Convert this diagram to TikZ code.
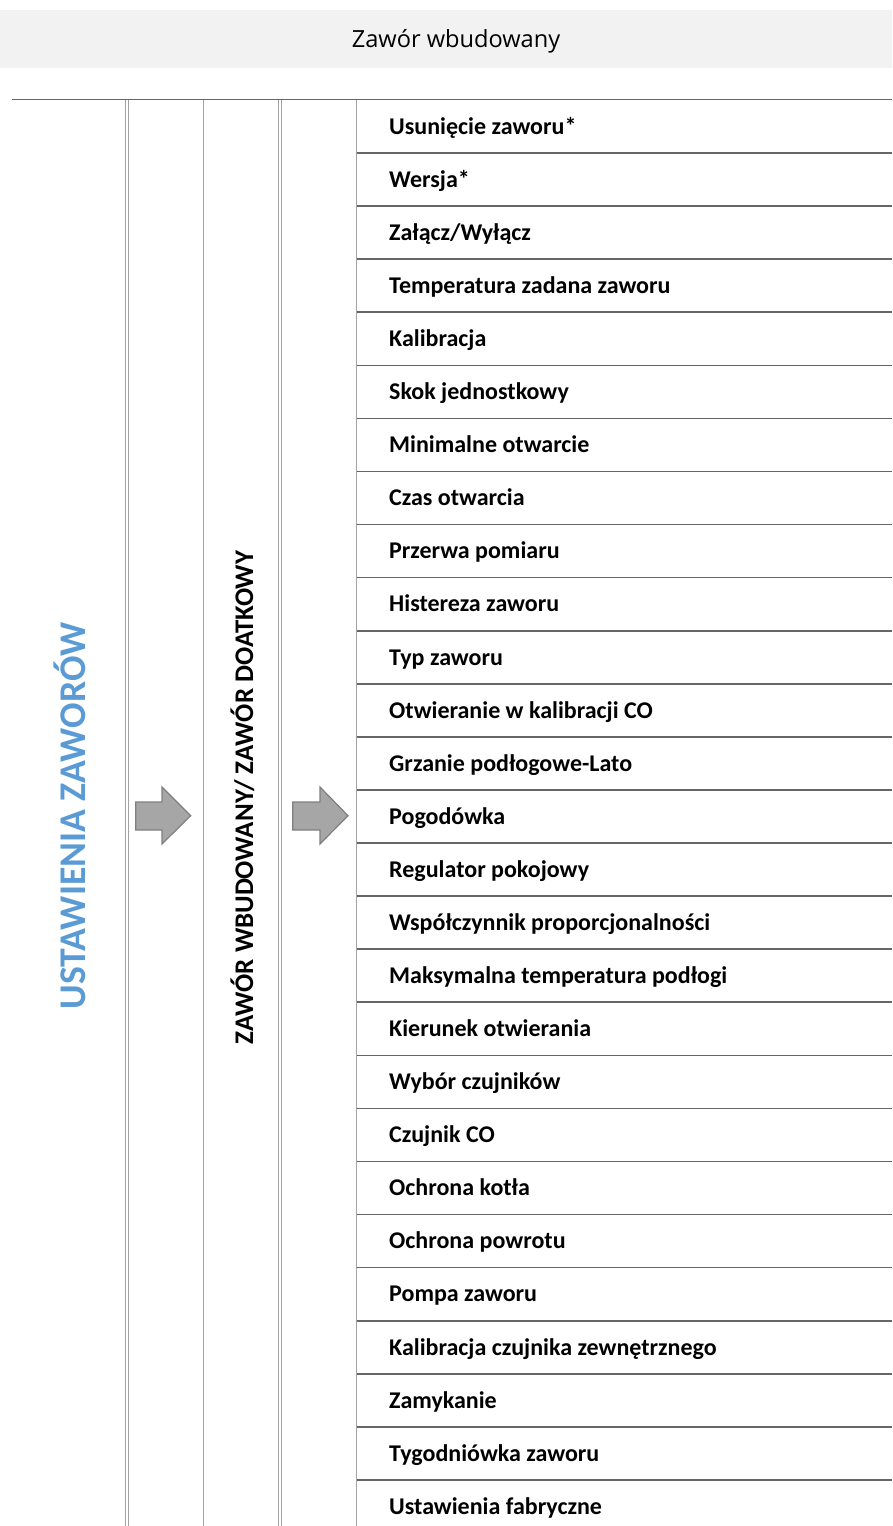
\documentclass[tikz,border=0pt]{standalone}
\usepackage{fontspec}
\setmainfont{Carlito}
\newfontfamily\hdfont{Open Sans}
\definecolor{hdbg}{HTML}{F2F2F2}
\definecolor{hlc}{HTML}{666666}
\definecolor{vlc}{HTML}{A3A3A3}
\definecolor{bluetxt}{HTML}{5B9BD5}
\definecolor{arrfill}{HTML}{A6A6A6}
\definecolor{arrdraw}{HTML}{7F7F7F}
\begin{document}
\begin{tikzpicture}[x=1pt,y=-1pt,
  hline/.style={draw=hlc, line width=1.6pt},
  vline/.style={draw=vlc, line width=1.2pt},
  rowtext/.style={anchor=base west, font=\bfseries\fontsize{24}{28}\selectfont, inner sep=0pt},
  vtext/.style={rotate=90, inner sep=0pt, font=\bfseries},
  blockarrow/.style={fill=arrfill, draw=arrdraw, line width=1.2pt, line join=miter}]
\useasboundingbox (0,0) rectangle (892,1526);
% header band
\fill[hdbg] (0,10) rectangle (892,68);
\node[font=\hdfont\fontsize{23.6}{28}\selectfont, anchor=base, inner sep=0pt] (hdr) at (456,47) {Zawór wbudowany};
% table frame
\draw[hline] (12,99.5) -- (892,99.5);
\foreach \xx in {125.3,128.7,203.3,278.3,281.7,356.7}
  \draw[vline] (\xx,99.5) -- (\xx,1526);
\foreach \k in {0,...,25}
  \draw[hline] (356.7,153+53.08*\k) -- (892,153+53.08*\k);
% vertical labels
\node[vtext, text=bluetxt, font=\bfseries\fontsize{37.7}{40}\selectfont] (lvl1) at (70,816) {USTAWIENIA ZAWORÓW};
\node[vtext, font=\bfseries\fontsize{26.9}{30}\selectfont] (lvl2) at (242.5,797.5) {ZAWÓR WBUDOWANY/ ZAWÓR DOATKOWY};
% arrows
\draw[blockarrow] (135.7,802) -- (162,802) -- (162,787) -- (190.7,815.7) -- (162,844) -- (162,830) -- (135.7,830) -- cycle;
\draw[blockarrow] (292.7,802) -- (320,802) -- (320,787) -- (348,815.7) -- (320,844) -- (320,830) -- (292.7,830) -- cycle;
% rows
\node[rowtext] (r1) at (389,134) {Usunięcie zaworu*};
\foreach \t [count=\i from 0] in {Wersja*,Załącz/Wyłącz,Temperatura zadana zaworu,Kalibracja,Skok jednostkowy,Minimalne otwarcie,Czas otwarcia,Przerwa pomiaru,Histereza zaworu,Typ zaworu,Otwieranie w kalibracji CO,Grzanie podłogowe-Lato,Pogodówka,Regulator pokojowy,Współczynnik proporcjonalności,Maksymalna temperatura podłogi,Kierunek otwierania,Wybór czujników,Czujnik CO,Ochrona kotła,Ochrona powrotu,Pompa zaworu,Kalibracja czujnika zewnętrznego,Zamykanie,Tygodniówka zaworu,Ustawienia fabryczne}
  \node[rowtext] (r\i) at (389,153+53.08*\i+34.3) {\t};
\end{tikzpicture}
\end{document}
